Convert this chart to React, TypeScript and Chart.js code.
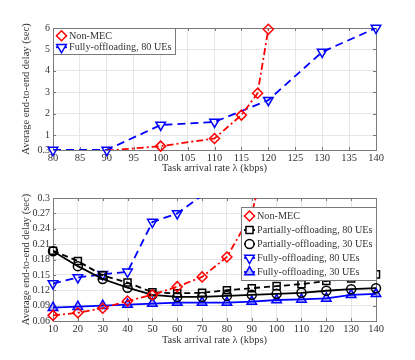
import React, { useEffect, useRef } from 'react';
import { Chart, registerables } from 'chart.js';

Chart.register(...registerables);

const FONT = "'Liberation Serif', 'Times New Roman', serif";
const TEXT = '#333333';

// ---------- Top chart data ----------
const topXTicks = [80, 85, 90, 95, 100, 105, 110, 115, 120, 125, 130, 135, 140];
const topYTicks = [0.3, 1, 2, 3, 4, 5, 6];
const topNonMecX = [90, 100, 110, 115, 118, 120];
const topNonMecY = [0.27, 0.48, 0.84, 1.93, 2.95, 5.94];
const topFully80X = [80, 90, 100, 110, 120, 130, 140];
const topFully80Y = [0.3, 0.3, 1.47, 1.61, 2.63, 4.88, 6.0];

// ---------- Bottom chart data ----------
const botXTicks = [10, 20, 30, 40, 50, 60, 70, 80, 90, 100, 110, 120, 130, 140];
const botYTicks = [0.06, 0.09, 0.12, 0.15, 0.18, 0.21, 0.24, 0.27, 0.3];
const botNonMecX = [10, 20, 30, 40, 50, 60, 70, 80, 90, 100];
const botNonMecY = [0.071, 0.076, 0.085, 0.099, 0.111, 0.127, 0.146, 0.185, 0.27, 0.46];
const botPartX = [10, 20, 30, 40, 50, 60, 70, 80, 90, 100, 110, 120, 130, 140];
const botPart80Y = [0.197, 0.177, 0.149, 0.135, 0.116, 0.114, 0.115, 0.12, 0.124, 0.128, 0.132, 0.138, 0.143, 0.151];
const botPart30Y = [0.196, 0.167, 0.142, 0.125, 0.111, 0.107, 0.107, 0.109, 0.111, 0.113, 0.115, 0.119, 0.122, 0.124];
const botFully80X = [10, 20, 30, 40, 50, 60, 70];
const botFully80Y = [0.133, 0.145, 0.151, 0.156, 0.253, 0.27, 0.305];
const botFully30X = [10, 20, 30, 40, 50, 60, 70, 80, 90, 100, 110, 120, 130, 140];
const botFully30Y = [0.086, 0.088, 0.09, 0.092, 0.094, 0.096, 0.096, 0.096, 0.098, 0.101, 0.102, 0.104, 0.111, 0.113];

const X_TITLE = 'Task arrival rate \u03bb (kbps)';
const Y_TITLE = 'Average end-to-end delay (sec)';

type Style = { label: string; color: string; dash: number[]; shape: string; rot: number; r: number; bg: string };

const S_NONMEC: Style = { label: 'Non-MEC', color: '#ff0000', dash: [7, 3, 2, 3], shape: 'rectRot', rot: 0, r: 5, bg: 'rgba(0,0,0,0)' };
const S_PART80: Style = { label: 'Partially-offloading, 80 UEs', color: '#000000', dash: [6, 4], shape: 'rect', rot: 0, r: 5, bg: 'rgba(0,0,0,0)' };
const S_PART30: Style = { label: 'Partially-offloading, 30 UEs', color: '#000000', dash: [], shape: 'circle', rot: 0, r: 4.5, bg: 'rgba(0,0,0,0)' };
const S_FULLY80: Style = { label: 'Fully-offloading, 80 UEs', color: '#0000ff', dash: [8, 5], shape: 'triangle', rot: 180, r: 5.5, bg: 'rgba(0,0,0,0)' };
const S_FULLY30: Style = { label: 'Fully-offloading, 30 UEs', color: '#0000ff', dash: [], shape: 'triangle', rot: 0, r: 5.5, bg: 'rgba(60,60,255,0.35)' };

type Series = { style: Style; xs: number[]; ys: number[] };

function buildDatasets(series: Series[], yMin: number, yMax: number) {
  const out: any[] = [];
  series.forEach((s) => {
    const pts = s.xs.map((x, i) => ({ x, y: s.ys[i] }));
    out.push({
      data: pts,
      borderColor: s.style.color,
      borderWidth: 1.8,
      borderDash: s.style.dash,
      pointRadius: 0,
      fill: false,
      tension: 0,
      clip: 0,
    });
    out.push({
      data: pts.filter((p) => p.y >= yMin - 1e-9 && p.y <= yMax + 1e-9),
      showLine: false,
      pointRadius: s.style.r,
      pointStyle: s.style.shape,
      pointRotation: s.style.rot,
      pointBorderColor: s.style.color,
      pointBackgroundColor: s.style.bg,
      pointBorderWidth: 1.5,
      clip: false,
    });
  });
  return out;
}

function drawMarker(ctx: CanvasRenderingContext2D, st: Style, x: number, y: number) {
  const r = st.r;
  ctx.beginPath();
  if (st.shape === 'rectRot') {
    ctx.moveTo(x, y - r);
    ctx.lineTo(x + r, y);
    ctx.lineTo(x, y + r);
    ctx.lineTo(x - r, y);
    ctx.closePath();
  } else if (st.shape === 'rect') {
    const h = r * Math.SQRT1_2;
    ctx.rect(x - h, y - h, 2 * h, 2 * h);
  } else if (st.shape === 'circle') {
    ctx.arc(x, y, r, 0, Math.PI * 2);
  } else {
    const a0 = (st.rot * Math.PI) / 180;
    for (let k = 0; k < 3; k++) {
      const a = a0 + (k * 2 * Math.PI) / 3;
      const px = x + Math.sin(a) * r;
      const py = y - Math.cos(a) * r;
      if (k === 0) ctx.moveTo(px, py);
      else ctx.lineTo(px, py);
    }
    ctx.closePath();
  }
  ctx.setLineDash([]);
  ctx.fillStyle = '#ffffff';
  ctx.fill();
  ctx.fillStyle = st.bg;
  ctx.fill();
  ctx.strokeStyle = st.color;
  ctx.lineWidth = 1.5;
  ctx.stroke();
}

function framePlugin(xTicks: number[], yTicks: number[]) {
  return {
    id: 'frame',
    beforeDatasetsDraw(chart: any) {
      const { ctx, chartArea: a, scales } = chart;
      ctx.save();
      ctx.strokeStyle = '#7a7a7a';
      ctx.lineWidth = 1;
      ctx.setLineDash([]);
      ctx.strokeRect(Math.round(a.left) + 0.5, Math.round(a.top) + 0.5, Math.round(a.right - a.left), Math.round(a.bottom - a.top));
      ctx.beginPath();
      xTicks.forEach((v) => {
        const px = Math.round(scales.x.getPixelForValue(v)) + 0.5;
        ctx.moveTo(px, a.bottom);
        ctx.lineTo(px, a.bottom - 3);
        ctx.moveTo(px, a.top);
        ctx.lineTo(px, a.top + 3);
      });
      yTicks.forEach((v) => {
        const py = Math.round(scales.y.getPixelForValue(v)) + 0.5;
        ctx.moveTo(a.left, py);
        ctx.lineTo(a.left + 3, py);
        ctx.moveTo(a.right, py);
        ctx.lineTo(a.right - 3, py);
      });
      ctx.stroke();
      ctx.restore();
    },
  };
}

function legendPlugin(entries: Style[], corner: 'left' | 'right', dy: number, rowH: number) {
  return {
    id: 'customLegend',
    afterDatasetsDraw(chart: any) {
      const { ctx, chartArea: a } = chart;
      ctx.save();
      ctx.font = `10.2px ${FONT}`;
      let maxW = 0;
      entries.forEach((e) => {
        maxW = Math.max(maxW, ctx.measureText(e.label).width);
      });
      const textOff = 16;
      const w = Math.round(textOff + maxW + 3);
      const h = Math.round(rowH * entries.length + 3);
      const left = corner === 'left' ? Math.round(a.left) : Math.round(a.right) - w;
      const top = Math.round(a.top) + dy;
      ctx.fillStyle = '#ffffff';
      ctx.fillRect(left, top, w, h);
      ctx.strokeStyle = '#7a7a7a';
      ctx.lineWidth = 1;
      ctx.setLineDash([]);
      ctx.strokeRect(left + 0.5, top + 0.5, w, h);
      entries.forEach((e, i) => {
        const cy = top + 2 + rowH * (i + 0.5);
        const mx = left + 8.5;
        ctx.beginPath();
        ctx.setLineDash([]);
        ctx.strokeStyle = e.color;
        ctx.lineWidth = 1.8;
        ctx.moveTo(left + 3, cy);
        ctx.lineTo(left + 14, cy);
        ctx.stroke();
        drawMarker(ctx, e, mx, cy);
        ctx.fillStyle = TEXT;
        ctx.textBaseline = 'middle';
        ctx.textAlign = 'left';
        ctx.fillText(e.label, left + textOff, cy + 0.5);
      });
      ctx.restore();
    },
  };
}

function fmt(v: number) {
  return String(Number(Number(v).toFixed(2)));
}

function makeConfig(
  series: Series[],
  xMin: number,
  xMax: number,
  xTicks: number[],
  yTicks: number[],
  padTop: number,
  xAxisH: number,
  legend: any
): any {
  const yMin = yTicks[0];
  const yMax = yTicks[yTicks.length - 1];
  return {
    type: 'line',
    data: { datasets: buildDatasets(series, yMin, yMax) },
    options: {
      responsive: false,
      animation: false,
      events: [],
      layout: { padding: { top: padTop, right: 39, left: 0, bottom: 1 } },
      plugins: { legend: { display: false }, tooltip: { enabled: false } },
      scales: {
        x: {
          type: 'linear',
          min: xMin,
          max: xMax,
          afterBuildTicks: (s: any) => {
            s.ticks = xTicks.map((v) => ({ value: v }));
          },
          afterFit: (s: any) => {
            s.height = xAxisH;
          },
          grid: { color: '#e6e6e6', drawTicks: false, lineWidth: 1 },
          border: { display: false },
          ticks: {
            padding: 2,
            color: TEXT,
            font: { family: FONT, size: 10.5 },
            maxRotation: 0,
            autoSkip: false,
            callback: (v: any) => fmt(v),
          },
          title: { display: true, text: X_TITLE, color: TEXT, font: { family: FONT, size: 10.5 }, padding: { top: 0, bottom: 0 } },
        },
        y: {
          type: 'linear',
          min: yMin,
          max: yMax,
          afterBuildTicks: (s: any) => {
            s.ticks = yTicks.map((v) => ({ value: v }));
          },
          afterFit: (s: any) => {
            s.width = 53;
          },
          grid: { color: '#e6e6e6', drawTicks: false, lineWidth: 1 },
          border: { display: false },
          ticks: {
            padding: 3,
            color: TEXT,
            font: { family: FONT, size: 10 },
            autoSkip: false,
            callback: (v: any) => fmt(v),
          },
          title: { display: true, text: Y_TITLE, color: TEXT, font: { family: FONT, size: 10.5 }, padding: { top: 20, bottom: 0 } },
        },
      },
    },
    plugins: [framePlugin(xTicks, yTicks), legend],
  };
}

export default function App() {
  const topRef = useRef<HTMLCanvasElement | null>(null);
  const botRef = useRef<HTMLCanvasElement | null>(null);

  useEffect(() => {
    const topSeries: Series[] = [
      { style: S_NONMEC, xs: topNonMecX, ys: topNonMecY },
      { style: S_FULLY80, xs: topFully80X, ys: topFully80Y },
    ];
    const botSeries: Series[] = [
      { style: S_NONMEC, xs: botNonMecX, ys: botNonMecY },
      { style: S_PART80, xs: botPartX, ys: botPart80Y },
      { style: S_PART30, xs: botPartX, ys: botPart30Y },
      { style: S_FULLY80, xs: botFully80X, ys: botFully80Y },
      { style: S_FULLY30, xs: botFully30X, ys: botFully30Y },
    ];
    const c1 = new Chart(
      topRef.current as HTMLCanvasElement,
      makeConfig(topSeries, 80, 140, topXTicks, topYTicks, 28, 25, legendPlugin([S_NONMEC, S_FULLY80], 'left', 0, 11.5))
    );
    const c2 = new Chart(
      botRef.current as HTMLCanvasElement,
      makeConfig(
        botSeries,
        10,
        140,
        botXTicks,
        botYTicks,
        22,
        26,
        legendPlugin([S_NONMEC, S_PART80, S_PART30, S_FULLY80, S_FULLY30], 'right', 9, 14)
      )
    );
    return () => {
      c1.destroy();
      c2.destroy();
    };
  }, []);

  return (
    <div style={{ position: 'fixed', left: 0, top: 0, width: 415, height: 360, background: '#ffffff' }}>
      <canvas ref={topRef} width={415} height={176} style={{ position: 'absolute', left: 0, top: 0, width: 415, height: 176 }} />
      <canvas ref={botRef} width={415} height={172} style={{ position: 'absolute', left: 0, top: 176, width: 415, height: 172 }} />
    </div>
  );
}
